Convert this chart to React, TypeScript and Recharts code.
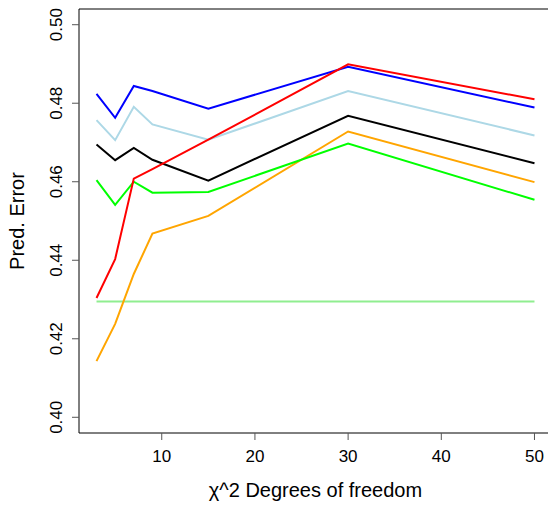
import { Label, Line, LineChart, ReferenceLine, XAxis, YAxis } from "recharts";

const dof = [3, 5, 7, 9, 15, 30, 50];

const blue = [0.4824, 0.4763, 0.4844, 0.4831, 0.4786, 0.4893, 0.4789];
const lightBlue = [0.4757, 0.4706, 0.4791, 0.4746, 0.4707, 0.4831, 0.4718];
const black = [0.4695, 0.4655, 0.4686, 0.4656, 0.4603, 0.4768, 0.4647];
const green = [0.4604, 0.4541, 0.46, 0.4572, 0.4574, 0.4697, 0.4554];
const red = [0.4304, 0.4403, 0.4608, 0.4632, 0.4707, 0.4899, 0.481];
const orange = [0.4143, 0.4238, 0.4365, 0.4468, 0.4513, 0.4728, 0.4599];
const baseline = [0.4295, 0.4295, 0.4295, 0.4295, 0.4295, 0.4295, 0.4295];

const xTicks = [10, 20, 30, 40, 50];
const yTicks = [0.4, 0.42, 0.44, 0.46, 0.48, 0.5];

const series = [
  { key: "baseline", color: "#90ee90" },
  { key: "orange", color: "#ffa500" },
  { key: "green", color: "#00ff00" },
  { key: "black", color: "#000000" },
  { key: "lightBlue", color: "#add8e6" },
  { key: "blue", color: "#0000ff" },
  { key: "red", color: "#ff0000" },
];

const data = dof.map((x, i) => ({
  x,
  blue: blue[i],
  lightBlue: lightBlue[i],
  black: black[i],
  green: green[i],
  red: red[i],
  orange: orange[i],
  baseline: baseline[i],
}));

const FONT = "'Liberation Sans', Arial, sans-serif";

function YTick(props: any) {
  const { x, y, payload } = props;
  const bx = x - 8;
  return (
    <text
      x={bx}
      y={y}
      transform={`rotate(-90, ${bx}, ${y})`}
      textAnchor="middle"
      fontSize={17}
      fontFamily={FONT}
      fill="#000"
    >
      {payload.value.toFixed(2)}
    </text>
  );
}

export default function App() {
  return (
    <div
      style={{
        position: "absolute",
        left: 0,
        top: 0,
        width: 548,
        height: 505,
        overflow: "hidden",
        background: "#fff",
      }}
    >
      <LineChart
        width={560}
        height={505}
        data={data}
        margin={{ top: 9, right: 8, left: 0, bottom: 0 }}
      >
        <XAxis
          dataKey="x"
          type="number"
          domain={[1.12, 51.88]}
          ticks={xTicks}
          allowDataOverflow
          height={72}
          tickSize={7}
          tickLine={{ stroke: "#555" }}
          axisLine={{ stroke: "#000" }}
          tick={{ fontSize: 17, fontFamily: FONT, fill: "#000", dy: 8 }}
        >
          <Label
            value="χ^2 Degrees of freedom"
            position="insideBottom"
            offset={8}
            style={{ fontSize: 20, fontFamily: FONT, fill: "#000" }}
          />
        </XAxis>
        <YAxis
          type="number"
          domain={[0.396, 0.504]}
          ticks={yTicks}
          allowDataOverflow
          width={79}
          tickSize={7}
          tickLine={{ stroke: "#555" }}
          axisLine={{ stroke: "#000" }}
          tick={<YTick />}
        >
          <Label
            value="Pred. Error"
            angle={-90}
            position="insideLeft"
            offset={17}
            style={{ fontSize: 20, fontFamily: FONT, fill: "#000", textAnchor: "middle" }}
          />
        </YAxis>
        <ReferenceLine y={0.504} stroke="#000" strokeWidth={1} />
        {series.map((s) => (
          <Line
            key={s.key}
            dataKey={s.key}
            stroke={s.color}
            strokeWidth={2}
            dot={false}
            activeDot={false}
            isAnimationActive={false}
            type="linear"
          />
        ))}
      </LineChart>
    </div>
  );
}
